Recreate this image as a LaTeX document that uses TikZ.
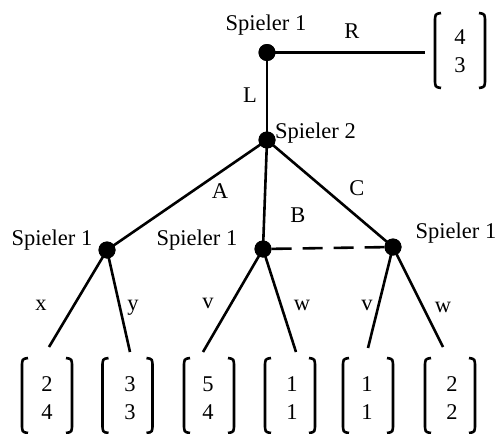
\documentclass[tikz,border=0pt]{standalone}
\usepackage{fontspec}
\setmainfont{Liberation Serif}
\tikzset{
  dot/.style={circle,fill=black,inner sep=0pt,minimum size=17pt},
  edge/.style={line width=2.6pt},
  infoset/.style={line width=2.6pt,dash pattern=on 20pt off 11pt},
  lbl/.style={anchor=base,inner sep=0pt,font=\fontsize{22.5}{26}\selectfont},
  num/.style={align=center,inner sep=0pt,font=\fontsize{22.5}{28}\selectfont},
  bracket/.style={line width=2.6pt},
  payoff/.pic={
    \draw[bracket] (-19,-37.5) .. controls (-25,-36.5) .. (-25,-28) -- (-25,28) .. controls (-25,36.5) .. (-19,37.5);
    \draw[bracket] (19,-37.5) .. controls (25,-36.5) .. (25,-28) -- (25,28) .. controls (25,36.5) .. (19,37.5);
  }
}
\begin{document}
\begin{tikzpicture}[x=1pt,y=-1pt]
\useasboundingbox (0,0) rectangle (499,434);
% decision nodes
\node[dot] (n0) at (267,52.5) {};
\node[dot] (n1) at (267,140) {};
\node[dot] (n2) at (107,250) {};
\node[dot] (n3) at (263,249) {};
\node[dot] (n4) at (393,247) {};
% edge ends
\coordinate (eR) at (425,52.5);
\coordinate (e1) at (49,347);
\coordinate (e2) at (130,352);
\coordinate (e3) at (203,352);
\coordinate (e4) at (296,352);
\coordinate (e5) at (368,348);
\coordinate (e6) at (443,347);
% edges
\draw[edge] (n0.center) -- (eR);
\draw[edge] (n0.center) -- (n1.center);
\draw[edge] (n1.center) -- (n2.center);
\draw[edge] (n1.center) -- (n3.center);
\draw[edge] (n1.center) -- (n4.center);
\draw[edge] (n2.center) -- (e1);
\draw[edge] (n2.center) -- (e2);
\draw[edge] (n3.center) -- (e3);
\draw[edge] (n3.center) -- (e4);
\draw[edge] (n4.center) -- (e5);
\draw[edge] (n4.center) -- (e6);
\draw[infoset] (n3) -- (n4);
% redraw dots on top
\foreach \n in {n0,n1,n2,n3,n4} \fill (\n.center) circle (8.5pt);
% player labels
\node[lbl] (s0) at (266,30) {Spieler 1};
\node[lbl,anchor=base west] (s1) at (275,138) {Spieler 2};
\node[lbl] (s2) at (52,245) {Spieler 1};
\node[lbl] (s3) at (197,245) {Spieler 1};
\node[lbl] (s4) at (456,238) {Spieler 1};
% action labels
\node[lbl] (aR) at (352,38) {R};
\node[lbl] (aL) at (250,102) {L};
\node[lbl] (aA) at (220,198) {A};
\node[lbl] (aB) at (298,222) {B};
\node[lbl] (aC) at (357,195) {C};
\node[lbl] (ax) at (41,310) {x};
\node[lbl] (ay) at (133,310) {y};
\node[lbl] (av1) at (208,308) {v};
\node[lbl] (aw1) at (302,310) {w};
\node[lbl] (av2) at (367,310) {v};
\node[lbl] (aw2) at (443,312) {w};
% payoffs
\pic at (460,50.5) {payoff};
\node[num] (p0) at (460,51.5) {4\\3};
\pic at (47,395.5) {payoff};
\node[num] (p1) at (47,398) {2\\4};
\pic at (127.5,395.5) {payoff};
\node[num] (p2) at (130,398) {3\\3};
\pic at (209,395.5) {payoff};
\node[num] (p3) at (208,398) {5\\4};
\pic at (290,395.5) {payoff};
\node[num] (p4) at (292,398) {1\\1};
\pic at (368,395.5) {payoff};
\node[num] (p5) at (367,398) {1\\1};
\pic at (450,395.5) {payoff};
\node[num] (p6) at (452,398) {2\\2};
\end{tikzpicture}
\end{document}
